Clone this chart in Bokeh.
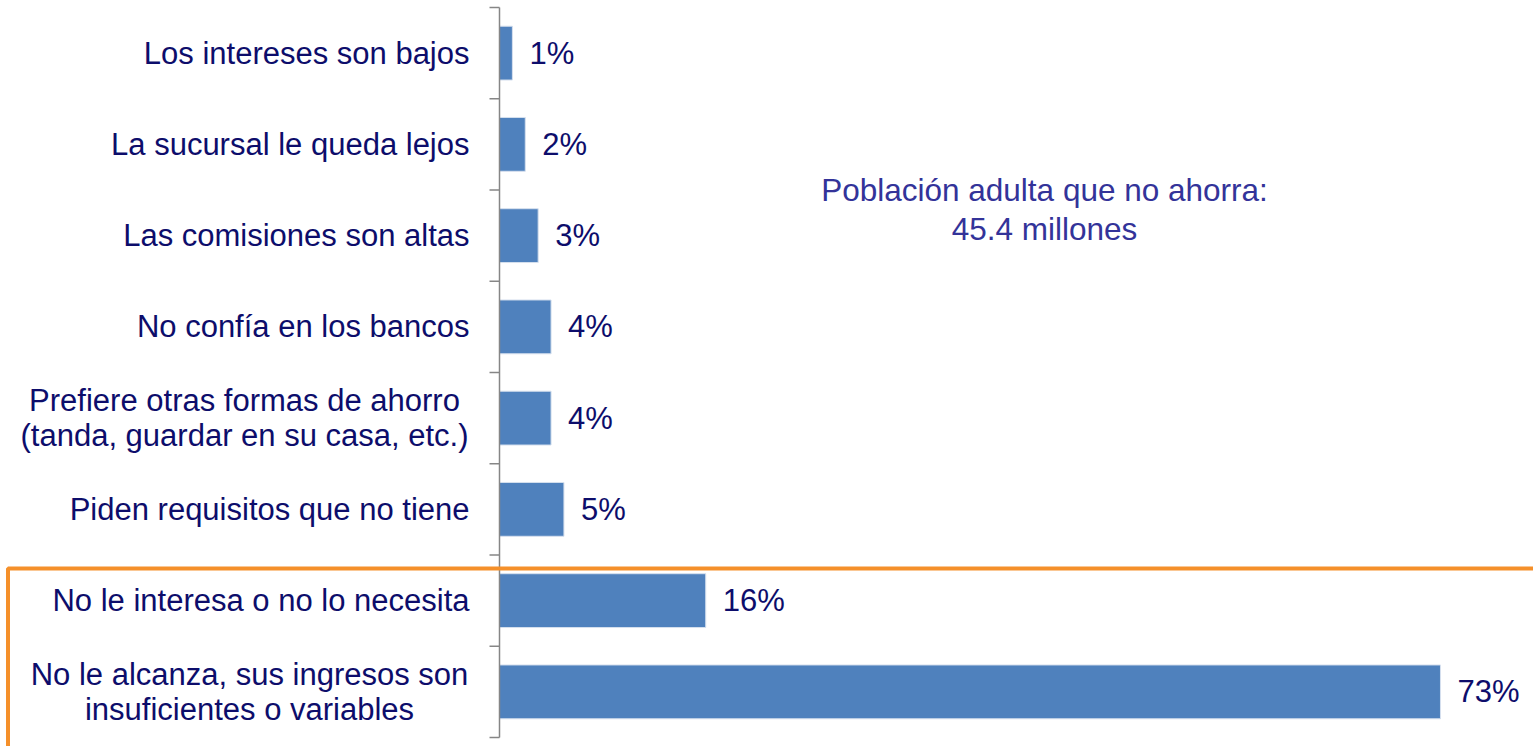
from bokeh.plotting import figure
from bokeh.models import Range1d, ColumnDataSource, Label, BoxAnnotation
from bokeh.core.properties import value
from bokeh.embed import file_html
from bokeh.resources import INLINE

# data (bottom to top)
categories = [
    "No le alcanza, sus ingresos son\ninsuficientes o variables",
    "No le interesa o no lo necesita",
    "Piden requisitos que no tiene",
    "Prefiere otras formas de ahorro\n(tanda, guardar en su casa, etc.)",
    "No confía en los bancos",
    "Las comisiones son altas",
    "La sucursal le queda lejos",
    "Los intereses son bajos",
]
values = [73, 16, 5, 4, 4, 3, 2, 1]
value_labels = [f"{v}%" for v in values]
note = "Población adulta que no ahorra:\n45.4 millones"

# styling for the category labels (two-line labels are centred)
label_align = ["center", "right", "right", "center", "right", "right", "right", "right"]
label_xoff = [-250, -30, -30, -255, -30, -30, -30, -30]

FONT = "Liberation Sans"
TXT = "#0D0D6B"
PX = 12.89            # pixels per percentage point
AX = 499              # axis position in pixels
W, H = 1533, 746

n = len(categories)
idx = list(range(n))
src = ColumnDataSource(dict(y=idx, v=values, lab=value_labels, cat=categories,
                            al=label_align, xo=label_xoff))

p = figure(width=W, height=H, output_backend="svg", toolbar_location=None,
           x_range=Range1d(-AX / PX, (W - AX) / PX),
           y_range=Range1d(-0.5 - 9 / 91.25, n - 0.5 + 7 / 91.25),
           x_axis_location=None, y_axis_location=None,
           min_border_left=0, min_border_right=0, min_border_top=0, min_border_bottom=0)
p.outline_line_color = None
p.grid.visible = False
p.background_fill_color = "white"

# bars
p.hbar(y="y", right="v", left=0, height=0.59, source=src,
       fill_color="#4F81BD", line_color="#D6E0EE", line_width=1)

# axis line and tick marks at category boundaries
bounds = [i - 0.5 for i in range(n + 1)]
p.segment(x0=[0], y0=[bounds[0]], x1=[0], y1=[bounds[-1]], line_color="#868686", line_width=1.5)
p.segment(x0=[-10 / PX] * len(bounds), y0=bounds, x1=[0] * len(bounds), y1=bounds,
          line_color="#868686", line_width=1.5)

# category labels
p.text(x=0, y="y", text="cat", source=src, x_offset="xo", text_align="al",
       text_baseline="middle", text_font=value(FONT), text_font_size="31px",
       text_color=TXT, text_line_height=1.0)

# value labels
p.text(x="v", y="y", text="lab", source=src, x_offset=17, text_baseline="middle",
       text_font=value(FONT), text_font_size="31px", text_color=TXT)

# note
p.add_layout(Label(x=(1044 - AX) / PX, y=5.286, text=note, text_align="center",
                   text_baseline="middle", text_font=FONT, text_font_size="31.5px",
                   text_color="#333399", text_line_height=1.06))

# orange highlight box around the two main reasons
p.add_layout(BoxAnnotation(left=(7.5 - AX) / PX, right=200, top=1.352, bottom=-5,
                           fill_alpha=0, line_color="#F5902A", line_alpha=1, line_width=4))

open("out.html", "w").write(file_html(p, INLINE))
